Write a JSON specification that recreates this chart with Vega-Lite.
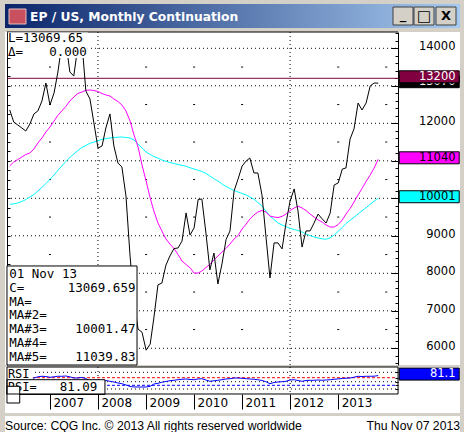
{
"$schema":"https://vega.github.io/schema/vega-lite/v6.json",
"background":"#D4D0C8",
"padding":{"left":5,"top":4,"right":4,"bottom":0},
"config":{"view":{"stroke":null},"axis":{"grid":false,"title":null}},
"datasets":{
"m":[
{"d":"2006-03-01","p":12355,"a":9839,"b":10861,"r":70},
{"d":"2006-04-01","p":12030,"a":9853,"b":10968,"r":66},
{"d":"2006-05-01","p":11955,"a":9874,"b":11034,"r":64},
{"d":"2006-06-01","p":11875,"a":9914,"b":11101,"r":63},
{"d":"2006-07-01","p":11795,"a":9967,"b":11168,"r":62},
{"d":"2006-08-01","p":11980,"a":10034,"b":11208,"r":66},
{"d":"2006-09-01","p":12250,"a":10101,"b":11314,"r":68.4},
{"d":"2006-10-01","p":12330,"a":10194,"b":11474,"r":74.7},
{"d":"2006-11-01","p":12595,"a":10288,"b":11608,"r":77.4},
{"d":"2006-12-01","p":13075,"a":10394,"b":11768,"r":76.3},
{"d":"2007-01-01","p":12490,"a":10501,"b":11901,"r":72.1},
{"d":"2007-02-01","p":12810,"a":10621,"b":12061,"r":74.7},
{"d":"2007-03-01","p":13340,"a":10741,"b":12208,"r":77.4},
{"d":"2007-04-01","p":14100,"a":10861,"b":12328,"r":77.4},
{"d":"2007-05-01","p":14200,"a":10981,"b":12448,"r":78.9},
{"d":"2007-06-01","p":13370,"a":11088,"b":12594,"r":74.7},
{"d":"2007-07-01","p":13260,"a":11181,"b":12701,"r":68.4},
{"d":"2007-08-01","p":14050,"a":11274,"b":12795,"r":68.4},
{"d":"2007-09-01","p":14150,"a":11354,"b":12835,"r":71.1},
{"d":"2007-10-01","p":12860,"a":11408,"b":12880,"r":65.8},
{"d":"2007-11-01","p":12650,"a":11466,"b":12888,"r":52.6},
{"d":"2007-12-01","p":12010,"a":11501,"b":12875,"r":47.4},
{"d":"2008-01-01","p":11340,"a":11533,"b":12848,"r":42.1},
{"d":"2008-02-01","p":11395,"a":11573,"b":12795,"r":47.4},
{"d":"2008-03-01","p":11875,"a":11592,"b":12755,"r":55.3},
{"d":"2008-04-01","p":12250,"a":11608,"b":12728,"r":51.1},
{"d":"2008-05-01","p":11395,"a":11621,"b":12648,"r":47.4},
{"d":"2008-06-01","p":10940,"a":11629,"b":12581,"r":42.1},
{"d":"2008-07-01","p":10835,"a":11634,"b":12488,"r":38.4},
{"d":"2008-08-01","p":10060,"a":11621,"b":12328,"r":31.6},
{"d":"2008-09-01","p":8460,"a":11608,"b":12061,"r":23.7},
{"d":"2008-10-01","p":7260,"a":11554,"b":11688,"r":21.1},
{"d":"2008-11-01","p":6510,"a":11448,"b":11368,"r":21.1},
{"d":"2008-12-01","p":6430,"a":11341,"b":10888,"r":21.1},
{"d":"2009-01-01","p":5950,"a":11234,"b":10461,"r":21.1},
{"d":"2009-02-01","p":6110,"a":11168,"b":10008,"r":24.7},
{"d":"2009-03-01","p":6810,"a":11114,"b":9661,"r":36.8},
{"d":"2009-04-01","p":7690,"a":11074,"b":9341,"r":40.5},
{"d":"2009-05-01","p":7740,"a":11021,"b":9127,"r":45.8},
{"d":"2009-06-01","p":8220,"a":10986,"b":8914,"r":50},
{"d":"2009-07-01","p":8460,"a":10954,"b":8781,"r":54.2},
{"d":"2009-08-01","p":8660,"a":10928,"b":8661,"r":56.3},
{"d":"2009-09-01","p":8675,"a":10901,"b":8501,"r":59.5},
{"d":"2009-10-01","p":8860,"a":10880,"b":8327,"r":61.6},
{"d":"2009-11-01","p":9610,"a":10853,"b":8234,"r":63.2},
{"d":"2009-12-01","p":9020,"a":10816,"b":8149,"r":60.5},
{"d":"2010-01-01","p":9210,"a":10781,"b":8007,"r":59.5},
{"d":"2010-02-01","p":9970,"a":10746,"b":8007,"r":63.2},
{"d":"2010-03-01","p":9980,"a":10714,"b":8061,"r":64.7},
{"d":"2010-04-01","p":9075,"a":10666,"b":8154,"r":57.9},
{"d":"2010-05-01","p":8090,"a":10594,"b":8239,"r":51.1},
{"d":"2010-06-01","p":8540,"a":10522,"b":8354,"r":53.7},
{"d":"2010-07-01","p":7715,"a":10461,"b":8461,"r":56.3},
{"d":"2010-08-01","p":8250,"a":10381,"b":8567,"r":59.5},
{"d":"2010-09-01","p":8900,"a":10314,"b":8666,"r":63.2},
{"d":"2010-10-01","p":9130,"a":10261,"b":8781,"r":64.7},
{"d":"2010-11-01","p":10195,"a":10208,"b":8914,"r":68.4},
{"d":"2010-12-01","p":10510,"a":10168,"b":9007,"r":68.4},
{"d":"2011-01-01","p":10860,"a":10128,"b":9181,"r":66.8},
{"d":"2011-02-01","p":10995,"a":10088,"b":9314,"r":64.7},
{"d":"2011-03-01","p":11075,"a":10034,"b":9447,"r":63.2},
{"d":"2011-04-01","p":10675,"a":9981,"b":9554,"r":61.6},
{"d":"2011-05-01","p":10675,"a":9887,"b":9634,"r":59.5},
{"d":"2011-06-01","p":10090,"a":9794,"b":9674,"r":55.3},
{"d":"2011-07-01","p":8995,"a":9661,"b":9634,"r":48.9},
{"d":"2011-08-01","p":7875,"a":9527,"b":9527,"r":38.4},
{"d":"2011-09-01","p":8810,"a":9434,"b":9501,"r":44.7},
{"d":"2011-10-01","p":8810,"a":9341,"b":9487,"r":47.4},
{"d":"2011-11-01","p":8650,"a":9287,"b":9519,"r":48.9},
{"d":"2011-12-01","p":9340,"a":9242,"b":9581,"r":51.1},
{"d":"2012-01-01","p":9930,"a":9199,"b":9674,"r":57.9},
{"d":"2012-02-01","p":10250,"a":9167,"b":9741,"r":59.5},
{"d":"2012-03-01","p":9660,"a":9141,"b":9789,"r":55.3},
{"d":"2012-04-01","p":8700,"a":9101,"b":9741,"r":51.1},
{"d":"2012-05-01","p":9130,"a":9047,"b":9674,"r":55.3},
{"d":"2012-06-01","p":9130,"a":9007,"b":9581,"r":56.3},
{"d":"2012-07-01","p":9340,"a":8967,"b":9501,"r":56.3},
{"d":"2012-08-01","p":9580,"a":8941,"b":9421,"r":57.9},
{"d":"2012-09-01","p":9450,"a":8919,"b":9367,"r":56.3},
{"d":"2012-10-01","p":9340,"a":8909,"b":9287,"r":57.9},
{"d":"2012-11-01","p":9610,"a":8946,"b":9234,"r":59.5},
{"d":"2012-12-01","p":10355,"a":9021,"b":9234,"r":61.6},
{"d":"2013-01-01","p":10410,"a":9119,"b":9301,"r":63.7},
{"d":"2013-02-01","p":10780,"a":9221,"b":9421,"r":65.8},
{"d":"2013-03-01","p":10810,"a":9327,"b":9581,"r":67.4},
{"d":"2013-04-01","p":11580,"a":9413,"b":9727,"r":68.4},
{"d":"2013-05-01","p":11850,"a":9495,"b":9901,"r":72.6},
{"d":"2013-06-01","p":12540,"a":9581,"b":10088,"r":77.4},
{"d":"2013-07-01","p":12355,"a":9669,"b":10261,"r":76.3},
{"d":"2013-08-01","p":12540,"a":9749,"b":10448,"r":77.4},
{"d":"2013-09-01","p":12995,"a":9839,"b":10621,"r":77.4},
{"d":"2013-10-01","p":13075,"a":9927,"b":10808,"r":77.9},
{"d":"2013-11-01","p":13069.66,"a":10001.47,"b":11039.83,"r":81.09}
],
"g":[{"v":6000},{"v":7000},{"v":8000},{"v":9000},{"v":10000},{"v":11000},{"v":12000},{"v":13000},{"v":14000}],
"vy":[{"d":"2008-01-01"},{"d":"2012-01-01"}],
"hd":[
{"d":"2007-01-01","v":[6500,7500,8500,9500,10500,11500,12500,13500]},
{"d":"2009-01-01","v":[6500,7500,8500,9500,10500,11500,12500,13500]},
{"d":"2010-01-01","v":[6500,7500,8500,9500,10500,11500,12500,13500]},
{"d":"2011-01-01","v":[6500,7500,8500,9500,10500,11500,12500,13500]},
{"d":"2013-01-01","v":[6500,7500,8500,9500,10500,11500,12500,13500]},
{"d":"2014-01-01","v":[6500,7500,8500,9500,10500,11500,12500,13500]}
],
"fl":[
{"n":"PR","v":13069.66,"t":"13070"},
{"n":"HL","v":13200,"t":"13200"},
{"n":"M5","v":11039.83,"t":"11040"},
{"n":"M3","v":10001.47,"t":"10001"}
],
"rg":[{"v":98.4},{"v":48.9},{"v":10.5}],
"one":[{}]
},
"spacing":3,
"vconcat":[
{
"width":455,"height":24,
"view":{"stroke":null},
"layer":[
{"data":{"name":"one"},"mark":{"type":"rect","stroke":null,"fill":{"gradient":"linear","x1":0,"y1":0,"x2":1,"y2":0,"stops":[{"offset":0,"color":"#0A246A"},{"offset":1,"color":"#A6CAF0"}]}},
 "encoding":{"x":{"datum":0,"type":"quantitative","scale":{"domain":[0,455],"nice":false,"zero":false},"axis":null},"x2":{"datum":455},
 "y":{"datum":0,"type":"quantitative","scale":{"domain":[0,24],"reverse":true,"nice":false,"zero":false},"axis":null},"y2":{"datum":24}}},
{"data":{"name":"one"},"mark":{"type":"rect","fill":"#C8505F","stroke":"#E8C0C0","strokeWidth":1},
 "encoding":{"x":{"datum":4,"type":"quantitative","scale":{"domain":[0,455],"nice":false,"zero":false},"axis":null},"x2":{"datum":21},
 "y":{"datum":5,"type":"quantitative","scale":{"domain":[0,24],"reverse":true,"nice":false,"zero":false},"axis":null},"y2":{"datum":20}}},
{"data":{"name":"one"},"mark":{"type":"text","text":"EP / US, Monthly Continuation","align":"left","baseline":"alphabetic","font":"DejaVu Sans","fontWeight":"bold","fontSize":12.3,"color":"#FFFFFF"},
 "encoding":{"x":{"datum":25,"type":"quantitative","scale":{"domain":[0,455],"nice":false,"zero":false},"axis":null},
 "y":{"datum":17,"type":"quantitative","scale":{"domain":[0,24],"reverse":true,"nice":false,"zero":false},"axis":null}}},
{"data":{"name":"one"},"mark":{"type":"rect","fill":"#D4D0C8","stroke":"#404040","strokeWidth":1},
 "encoding":{"x":{"datum":388,"type":"quantitative","scale":{"domain":[0,455],"nice":false,"zero":false},"axis":null},"x2":{"datum":408},
 "y":{"datum":3,"type":"quantitative","scale":{"domain":[0,24],"reverse":true,"nice":false,"zero":false},"axis":null},"y2":{"datum":21}}},
{"data":{"name":"one"},"mark":{"type":"rect","fill":"#D4D0C8","stroke":"#404040","strokeWidth":1},
 "encoding":{"x":{"datum":409,"type":"quantitative","scale":{"domain":[0,455],"nice":false,"zero":false},"axis":null},"x2":{"datum":429},
 "y":{"datum":3,"type":"quantitative","scale":{"domain":[0,24],"reverse":true,"nice":false,"zero":false},"axis":null},"y2":{"datum":21}}},
{"data":{"name":"one"},"mark":{"type":"rect","fill":"#D4D0C8","stroke":"#404040","strokeWidth":1},
 "encoding":{"x":{"datum":431,"type":"quantitative","scale":{"domain":[0,455],"nice":false,"zero":false},"axis":null},"x2":{"datum":451},
 "y":{"datum":3,"type":"quantitative","scale":{"domain":[0,24],"reverse":true,"nice":false,"zero":false},"axis":null},"y2":{"datum":21}}},
{"data":{"name":"one"},"mark":{"type":"text","text":"_","align":"center","baseline":"alphabetic","font":"DejaVu Sans","fontWeight":"bold","fontSize":13,"color":"#000000"},
 "encoding":{"x":{"datum":398,"type":"quantitative","scale":{"domain":[0,455],"nice":false,"zero":false},"axis":null},
 "y":{"datum":15,"type":"quantitative","scale":{"domain":[0,24],"reverse":true,"nice":false,"zero":false},"axis":null}}},
{"data":{"name":"one"},"mark":{"type":"text","text":"□","align":"center","baseline":"middle","font":"DejaVu Sans","fontWeight":"bold","fontSize":15,"color":"#000000"},
 "encoding":{"x":{"datum":419,"type":"quantitative","scale":{"domain":[0,455],"nice":false,"zero":false},"axis":null},
 "y":{"datum":12,"type":"quantitative","scale":{"domain":[0,24],"reverse":true,"nice":false,"zero":false},"axis":null}}},
{"data":{"name":"one"},"mark":{"type":"text","text":"X","align":"center","baseline":"middle","font":"DejaVu Sans","fontWeight":"bold","fontSize":13,"color":"#000000"},
 "encoding":{"x":{"datum":441,"type":"quantitative","scale":{"domain":[0,455],"nice":false,"zero":false},"axis":null},
 "y":{"datum":12,"type":"quantitative","scale":{"domain":[0,24],"reverse":true,"nice":false,"zero":false},"axis":null}}}
]
},
{
"spacing":0,
"vconcat":[
{
"width":455,"height":333,
"view":{"fill":"#FFFFFF","stroke":null},
"layer":[
{"data":{"name":"g"},"mark":{"type":"rule","color":"#000000","strokeDash":[1,3],"strokeWidth":1},
 "encoding":{"x":{"datum":{"year":2006,"month":2,"date":8,"utc":true},"type":"temporal","scale":{"type":"utc","domain":[{"year":2006,"month":1,"date":24,"utc":true},{"year":2015,"month":7,"date":16,"utc":true}]},"axis":null},
 "x2":{"datum":{"year":2014,"month":3,"date":24,"utc":true}},
 "y":{"field":"v","type":"quantitative","scale":{"domain":[5554.5,14434.7],"nice":false,"zero":false},
  "axis":{"orient":"right","offset":-453,"values":[5750,6000,6250,6500,6750,7000,7250,7500,7750,8000,8250,8500,8750,9000,9250,9500,9750,10000,10250,10500,10750,11000,11250,11500,11750,12000,12250,12500,12750,13000,13250,13500,13750,14000,14250],"tickSize":3,"tickColor":"#000000","domain":true,"domainColor":"#000000","labels":false,"title":null,"grid":false,"minExtent":0,"maxExtent":0}}}},
{"data":{"name":"vy"},"mark":{"type":"rule","color":"#000000","strokeDash":[1,3],"strokeWidth":1},
 "encoding":{"x":{"field":"d","type":"temporal","scale":{"type":"utc","domain":[{"year":2006,"month":1,"date":24,"utc":true},{"year":2015,"month":7,"date":16,"utc":true}]},"axis":null}}},
{"data":{"name":"hd"},"transform":[{"flatten":["v"]}],"mark":{"type":"tick","orient":"horizontal","size":2,"thickness":1,"color":"#000000","opacity":1},
 "encoding":{"x":{"field":"d","type":"temporal","scale":{"type":"utc","domain":[{"year":2006,"month":1,"date":24,"utc":true},{"year":2015,"month":7,"date":16,"utc":true}]},"axis":null},
 "y":{"field":"v","type":"quantitative","scale":{"domain":[5554.5,14434.7],"nice":false,"zero":false},"axis":null}}},
{"data":{"name":"one"},"mark":{"type":"rule","color":"#800040","strokeWidth":1},
 "encoding":{"x":{"datum":{"year":2006,"month":2,"date":8,"utc":true},"type":"temporal","axis":null},"x2":{"datum":{"year":2014,"month":4,"date":1,"utc":true}},
 "y":{"datum":13200,"type":"quantitative","axis":null}}},
{"data":{"name":"m"},"mark":{"type":"line","color":"#00FFFF","strokeWidth":1},
 "encoding":{"x":{"field":"d","type":"temporal","scale":{"type":"utc","domain":[{"year":2006,"month":1,"date":24,"utc":true},{"year":2015,"month":7,"date":16,"utc":true}]},"axis":null},
 "y":{"field":"a","type":"quantitative","scale":{"domain":[5554.5,14434.7],"nice":false,"zero":false},
  "axis":{"orient":"right","offset":-62,"values":[6000,7000,8000,9000,12000,14000],"format":"d","ticks":false,"domain":false,"labelAlign":"right","labelBaseline":"middle","labelPadding":57,"labelOffset":-1.5,"labelFont":"DejaVu Sans","labelFontSize":11.5,"labelColor":"#000000","labelFlush":false,"labelOverlap":false,"title":null,"grid":false,"minExtent":0,"maxExtent":0}}}},
{"data":{"name":"m"},"mark":{"type":"line","color":"#FF00FF","strokeWidth":1},
 "encoding":{"x":{"field":"d","type":"temporal","scale":{"type":"utc","domain":[{"year":2006,"month":1,"date":24,"utc":true},{"year":2015,"month":7,"date":16,"utc":true}]},"axis":null},
 "y":{"field":"b","type":"quantitative","scale":{"domain":[5554.5,14434.7],"nice":false,"zero":false},
  "axis":{"orient":"left","offset":-393,"values":[5600,5800,6000,6200,6400,6600,6800,7000,7200,7400,7600,7800,8000,8200,8400,8600,8800,9000,9200,9400,9600,9800,10000,10200,10400,10600,10800,11000,11200,11400,11600,11800,12000,12200,12400,12600,12800,13000,13200,13400,13600,13800,14000,14200,14400],"tickSize":3,"tickColor":"#000000","domain":false,"labels":false,"title":null,"grid":false,"minExtent":0,"maxExtent":0}}}},
{"data":{"name":"m"},"mark":{"type":"line","color":"#000000","strokeWidth":1},
 "encoding":{"x":{"field":"d","type":"temporal","scale":{"type":"utc","domain":[{"year":2006,"month":1,"date":24,"utc":true},{"year":2015,"month":7,"date":16,"utc":true}]},"axis":null},
 "y":{"field":"p","type":"quantitative","scale":{"domain":[5554.5,14434.7],"nice":false,"zero":false},
  "axis":{"orient":"left","offset":-393,"values":[6000,7000,8000,9000,10000,11000,12000,13000,14000],"tickSize":7,"tickColor":"#000000","domain":true,"domainColor":"#000000","labels":false,"title":null,"grid":false,"minExtent":0,"maxExtent":0}}}},
{"data":{"name":"one"},"mark":{"type":"rule","color":"#000000","strokeWidth":1},
 "encoding":{"x":{"datum":{"year":2006,"month":2,"date":8,"utc":true},"type":"temporal","axis":null},"x2":{"datum":{"year":2014,"month":4,"date":1,"utc":true}},
 "y":{"datum":14434.7,"type":"quantitative","axis":null}}},
{"data":{"name":"one"},"mark":{"type":"rect","fill":"#FFFFFF","stroke":"#000000","strokeWidth":1},
 "encoding":{"x":{"datum":{"year":2006,"month":2,"date":8,"utc":true},"type":"temporal","axis":null},"x2":{"datum":{"year":2008,"month":10,"date":24,"utc":true}},
 "y":{"datum":8195,"type":"quantitative","axis":null},"y2":{"datum":5554.5}}},
{"data":{"name":"one"},"mark":{"type":"text","text":["01 Nov 13","C=","MA=","MA#2=","MA#3=","MA#4=","MA#5="],"align":"left","baseline":"alphabetic","lineHeight":13.8,"font":"DejaVu Sans Mono","fontSize":12.5,"color":"#000000"},
 "encoding":{"x":{"datum":{"year":2006,"month":2,"date":25,"utc":true},"type":"temporal","axis":null},"y":{"datum":7875,"type":"quantitative","axis":null}}},
{"data":{"name":"one"},"mark":{"type":"text","text":"13069.659","align":"right","baseline":"alphabetic","font":"DejaVu Sans Mono","fontSize":12.5,"color":"#000000"},
 "encoding":{"x":{"datum":{"year":2008,"month":10,"date":12,"utc":true},"type":"temporal","axis":null},"y":{"datum":7507,"type":"quantitative","axis":null}}},
{"data":{"name":"one"},"mark":{"type":"text","text":"10001.47","align":"right","baseline":"alphabetic","font":"DejaVu Sans Mono","fontSize":12.5,"color":"#000000"},
 "encoding":{"x":{"datum":{"year":2008,"month":10,"date":12,"utc":true},"type":"temporal","axis":null},"y":{"datum":6403,"type":"quantitative","axis":null}}},
{"data":{"name":"one"},"mark":{"type":"text","text":"11039.83","align":"right","baseline":"alphabetic","font":"DejaVu Sans Mono","fontSize":12.5,"color":"#000000"},
 "encoding":{"x":{"datum":{"year":2008,"month":10,"date":12,"utc":true},"type":"temporal","axis":null},"y":{"datum":5667,"type":"quantitative","axis":null}}},
{"data":{"name":"one"},"mark":{"type":"rect","fill":"#FFFFFF","stroke":null},
 "encoding":{"x":{"datum":{"year":2006,"month":2,"date":15,"utc":true},"type":"temporal","axis":null},"x2":{"datum":{"year":2007,"month":10,"date":16,"utc":true}},
 "y":{"datum":14420,"type":"quantitative","axis":null},"y2":{"datum":13741}}},
{"data":{"name":"one"},"mark":{"type":"text","text":["L=13069.65","Δ="],"align":"left","baseline":"alphabetic","lineHeight":13.5,"font":"DejaVu Sans Mono","fontSize":12.5,"color":"#000000"},
 "encoding":{"x":{"datum":{"year":2006,"month":2,"date":15,"utc":true},"type":"temporal","axis":null},"y":{"datum":14155,"type":"quantitative","axis":null}}},
{"data":{"name":"one"},"mark":{"type":"text","text":"0.000","align":"right","baseline":"alphabetic","font":"DejaVu Sans Mono","fontSize":12.5,"color":"#000000"},
 "encoding":{"x":{"datum":{"year":2007,"month":10,"date":8,"utc":true},"type":"temporal","axis":null},"y":{"datum":13795,"type":"quantitative","axis":null}}},
{"data":{"name":"fl"},"transform":[{"filter":"datum.n == 'PR'"}],"mark":{"type":"point","shape":"M-1,-0.25H1V0.15H-1Z","size":3600,"filled":true,"opacity":1,"stroke":"#000000","strokeWidth":1},
 "encoding":{"x":{"datum":{"year":2014,"month":11,"date":24,"utc":true},"type":"temporal","axis":null},
 "y":{"field":"v","type":"quantitative","axis":null},
 "fill":{"field":"n","type":"nominal","scale":{"domain":["PR","HL","M5","M3"],"range":["#000000","#800040","#FF00FF","#00FFFF"]},"legend":null}}},
{"data":{"name":"fl"},"transform":[{"filter":"datum.n == 'PR'"}],"mark":{"type":"text","align":"right","baseline":"middle","dy":-1.5,"font":"DejaVu Sans","fontSize":11.5,"color":"#FFFFFF"},
 "encoding":{"x":{"datum":{"year":2015,"month":6,"date":12,"utc":true},"type":"temporal","axis":null},
 "y":{"field":"v","type":"quantitative","axis":null},"text":{"field":"t"}}},
{"data":{"name":"fl"},"transform":[{"filter":"datum.n != 'PR'"}],"mark":{"type":"point","shape":"M-1,-0.25H1V0.15H-1Z","size":3600,"filled":true,"opacity":1,"stroke":"#000000","strokeWidth":1},
 "encoding":{"x":{"datum":{"year":2014,"month":11,"date":24,"utc":true},"type":"temporal","axis":null},
 "y":{"field":"v","type":"quantitative","axis":null},
 "fill":{"field":"n","type":"nominal","scale":{"domain":["PR","HL","M5","M3"],"range":["#000000","#800040","#FF00FF","#00FFFF"]},"legend":null}}},
{"data":{"name":"fl"},"transform":[{"filter":"datum.n != 'PR'"}],"mark":{"type":"text","align":"right","baseline":"middle","dy":-1.5,"font":"DejaVu Sans","fontSize":11.5},
 "encoding":{"x":{"datum":{"year":2015,"month":6,"date":12,"utc":true},"type":"temporal","axis":null},
 "y":{"field":"v","type":"quantitative","axis":null},"text":{"field":"t"},
 "color":{"condition":{"test":"datum.n == 'HL'","value":"#FFFFFF"},"value":"#000000"}}}
],
"resolve":{"axis":{"y":"independent"}}
},
{
"width":455,"height":46,
"view":{"fill":"#FFFFFF","stroke":null},
"layer":[
{"data":{"name":"rg"},"mark":{"type":"rule","color":"#000000","strokeDash":[1,3],"strokeWidth":1},
 "encoding":{"x":{"datum":{"year":2006,"month":2,"date":8,"utc":true},"type":"temporal","scale":{"type":"utc","domain":[{"year":2006,"month":1,"date":24,"utc":true},{"year":2015,"month":7,"date":16,"utc":true}]},"axis":null},
 "x2":{"datum":{"year":2014,"month":3,"date":24,"utc":true}},
 "y":{"field":"v","type":"quantitative","scale":{"domain":[-115.8,126.3],"nice":false,"zero":false},
  "axis":{"orient":"left","offset":-393,"values":[98.4,70,48.9,30,10.5],"tickSize":3,"tickColor":"#000000","domain":false,"labels":false,"title":null,"grid":false,"minExtent":0,"maxExtent":0}}}},
{"data":{"name":"one"},"mark":{"type":"rule","color":"#FF0000","strokeDash":[3,2],"strokeWidth":1},
 "encoding":{"x":{"datum":{"year":2006,"month":2,"date":8,"utc":true},"type":"temporal","axis":null},"x2":{"datum":{"year":2014,"month":3,"date":24,"utc":true}},
 "y":{"datum":70,"type":"quantitative","axis":null}}},
{"data":{"name":"one"},"mark":{"type":"rule","color":"#0000FF","strokeDash":[3,2],"strokeWidth":1},
 "encoding":{"x":{"datum":{"year":2006,"month":2,"date":8,"utc":true},"type":"temporal","axis":null},"x2":{"datum":{"year":2014,"month":3,"date":24,"utc":true}},
 "y":{"datum":30,"type":"quantitative","axis":null}}},
{"data":{"name":"vy"},"mark":{"type":"rule","color":"#000000","strokeDash":[1,3],"strokeWidth":1},
 "encoding":{"x":{"field":"d","type":"temporal","axis":null},"y":{"datum":126.3,"type":"quantitative","axis":null},"y2":{"datum":-15.8}}},
{"data":{"name":"m"},"mark":{"type":"line","color":"#0000FF","strokeWidth":1},
 "encoding":{"x":{"field":"d","type":"temporal","scale":{"type":"utc","domain":[{"year":2006,"month":1,"date":24,"utc":true},{"year":2015,"month":7,"date":16,"utc":true}]},
  "axis":{"orient":"bottom","offset":-19,"values":[{"year":2007,"month":1,"date":1,"utc":true},{"year":2008,"month":1,"date":1,"utc":true},{"year":2009,"month":1,"date":1,"utc":true},{"year":2010,"month":1,"date":1,"utc":true},{"year":2011,"month":1,"date":1,"utc":true},{"year":2012,"month":1,"date":1,"utc":true},{"year":2013,"month":1,"date":1,"utc":true}],
  "format":"%Y","tickSize":15,"tickColor":"#000000","domain":false,"labelAlign":"left","labelBaseline":"alphabetic","labelPadding":-2.5,"labelOffset":3,"labelFont":"DejaVu Sans","labelFontSize":12,"labelColor":"#000000","labelFlush":false,"labelOverlap":false,"title":null,"grid":false,"minExtent":0,"maxExtent":0}},
 "y":{"field":"r","type":"quantitative","scale":{"domain":[-115.8,126.3],"nice":false,"zero":false},"axis":null}}},
{"data":{"name":"one"},"mark":{"type":"rect","fill":"#FFFFFF","stroke":null},
 "encoding":{"x":{"datum":{"year":2006,"month":2,"date":8,"utc":true},"type":"temporal","axis":null},"x2":{"datum":{"year":2006,"month":8,"date":24,"utc":true}},
 "y":{"datum":126.3,"type":"quantitative","axis":null},"y2":{"datum":60.5}}},
{"data":{"name":"one"},"mark":{"type":"text","text":"RSI","align":"left","baseline":"alphabetic","font":"DejaVu Sans Mono","fontSize":12,"color":"#000000"},
 "encoding":{"x":{"datum":{"year":2006,"month":2,"date":15,"utc":true},"type":"temporal","axis":null},"y":{"datum":66,"type":"quantitative","axis":null}}},
{"data":{"name":"one"},"mark":{"type":"rect","fill":"#FFFFFF","stroke":"#000000","strokeWidth":1},
 "encoding":{"x":{"datum":{"year":2006,"month":2,"date":8,"utc":true},"type":"temporal","axis":null},"x2":{"datum":{"year":2008,"month":2,"date":23,"utc":true}},
 "y":{"datum":59.5,"type":"quantitative","axis":null},"y2":{"datum":-18}}},
{"data":{"name":"one"},"mark":{"type":"text","text":"RSI=","align":"left","baseline":"alphabetic","font":"DejaVu Sans Mono","fontSize":12,"color":"#000000"},
 "encoding":{"x":{"datum":{"year":2006,"month":2,"date":15,"utc":true},"type":"temporal","axis":null},"y":{"datum":1.6,"type":"quantitative","axis":null}}},
{"data":{"name":"one"},"mark":{"type":"text","text":"81.09","align":"right","baseline":"alphabetic","font":"DejaVu Sans Mono","fontSize":12.5,"color":"#000000"},
 "encoding":{"x":{"datum":{"year":2007,"month":12,"date":27,"utc":true},"type":"temporal","axis":null},"y":{"datum":1.6,"type":"quantitative","axis":null}}},
{"data":{"name":"one"},"mark":{"type":"rect","fill":"#FFFFFF","stroke":"#000000","strokeWidth":1},
 "encoding":{"x":{"datum":{"year":2006,"month":2,"date":8,"utc":true},"type":"temporal","axis":null},"x2":{"datum":{"year":2006,"month":5,"date":16,"utc":true}},
 "y":{"datum":24.7,"type":"quantitative","axis":null},"y2":{"datum":-63.2}}},
{"data":{"name":"one"},"mark":{"type":"rule","color":"#000000","strokeWidth":1},
 "encoding":{"x":{"datum":{"year":2006,"month":2,"date":8,"utc":true},"type":"temporal","axis":null},"x2":{"datum":{"year":2014,"month":4,"date":1,"utc":true}},
 "y":{"datum":126.3,"type":"quantitative","axis":null}}},
{"data":{"name":"one"},"mark":{"type":"rule","color":"#000000","strokeWidth":1},
 "encoding":{"x":{"datum":{"year":2006,"month":2,"date":8,"utc":true},"type":"temporal","axis":null},"x2":{"datum":{"year":2014,"month":4,"date":1,"utc":true}},
 "y":{"datum":-15.8,"type":"quantitative","axis":null}}},
{"data":{"name":"one"},"mark":{"type":"rule","color":"#000000","strokeWidth":1},
 "encoding":{"x":{"datum":{"year":2006,"month":2,"date":8,"utc":true},"type":"temporal","axis":null},
 "y":{"datum":126.3,"type":"quantitative","axis":null},"y2":{"datum":-15.8}}},
{"data":{"name":"one"},"mark":{"type":"rule","color":"#000000","strokeWidth":1},
 "encoding":{"x":{"datum":{"year":2014,"month":4,"date":1,"utc":true},"type":"temporal","axis":null},
 "y":{"datum":126.3,"type":"quantitative","axis":null},"y2":{"datum":-15.8}}},
{"data":{"name":"one"},"mark":{"type":"point","shape":"M-1,-0.25H1V0.15H-1Z","size":3600,"filled":true,"opacity":1,"fill":"#0000FF","stroke":"#000000","strokeWidth":1},
 "encoding":{"x":{"datum":{"year":2014,"month":11,"date":24,"utc":true},"type":"temporal","axis":null},"y":{"datum":81.09,"type":"quantitative","axis":null}}},
{"data":{"name":"one"},"mark":{"type":"text","text":"81.1","align":"right","baseline":"middle","dy":-1.5,"font":"DejaVu Sans","fontSize":11.5,"color":"#FFFFFF"},
 "encoding":{"x":{"datum":{"year":2015,"month":6,"date":12,"utc":true},"type":"temporal","axis":null},"y":{"datum":81.09,"type":"quantitative","axis":null}}}
],
"resolve":{"axis":{"y":"independent","x":"independent"}}
}
]
},
{
"width":455,"height":19,
"view":{"fill":"#FFFFFF","stroke":null},
"layer":[
{"data":{"name":"one"},"mark":{"type":"text","text":"Source: CQG Inc. © 2013 All rights reserved worldwide","align":"left","baseline":"alphabetic","font":"Liberation Sans","fontSize":12.2,"color":"#000000"},
 "encoding":{"x":{"datum":0,"type":"quantitative","scale":{"domain":[0,455],"nice":false,"zero":false},"axis":null},
 "y":{"datum":14,"type":"quantitative","scale":{"domain":[0,19],"reverse":true,"nice":false,"zero":false},"axis":null}}},
{"data":{"name":"one"},"mark":{"type":"text","text":"Thu Nov 07 2013","align":"right","baseline":"alphabetic","font":"Liberation Sans","fontSize":12.2,"color":"#000000"},
 "encoding":{"x":{"datum":455,"type":"quantitative","scale":{"domain":[0,455],"nice":false,"zero":false},"axis":null},
 "y":{"datum":14,"type":"quantitative","scale":{"domain":[0,19],"reverse":true,"nice":false,"zero":false},"axis":null}}}
]
}
]
}
